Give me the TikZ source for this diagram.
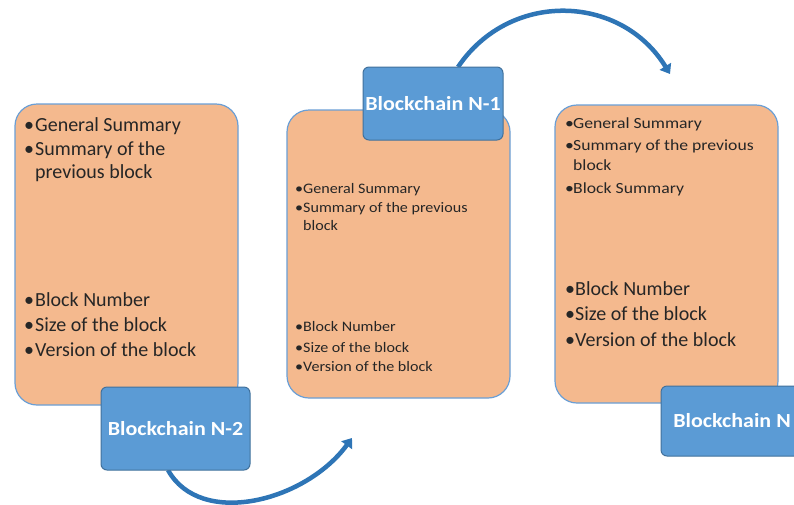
\documentclass[tikz,border=0pt]{standalone}
\usepackage{fontspec}
\setmainfont{Carlito}
\newfontfamily\smallwide[FakeStretch=1.11]{Carlito}
\newfontfamily\smallwider[FakeStretch=1.14]{Carlito}
\newfontfamily\boldwide[FakeStretch=1.1]{Carlito}
\usetikzlibrary{arrows.meta}
\definecolor{orangefill}{HTML}{F4B98E}
\definecolor{orangeline}{HTML}{6A9FD6}
\definecolor{bluefill}{HTML}{5B9BD5}
\definecolor{blueline}{HTML}{41719C}
\definecolor{arrowblue}{HTML}{2E75B6}
\newcommand\bitem[2]{\makebox[#1][l]{\textbullet}#2}
\tikzset{
  obox/.style={draw=orangeline, fill=orangefill, line width=1.2pt, rounded corners=22pt, inner sep=0pt},
  bbox/.style={draw=blueline, fill=bluefill, line width=1pt, rounded corners=6pt, inner sep=0pt,
    text=white, font=\boldwide\fontsize{20}{22}\selectfont\bfseries},
  big/.style={anchor=base west, inner sep=0pt, font=\fontsize{20}{24}\selectfont, text=black!85},
  small/.style={anchor=base west, inner sep=0pt, font=\smallwide\fontsize{14.5}{18}\selectfont, text=black!85},
  smallb/.style={anchor=base west, inner sep=0pt, font=\smallwider\fontsize{15.5}{18}\selectfont, text=black!85},
  flow/.style={draw=arrowblue, line width=4.5pt, -{Triangle[length=9pt,width=13pt]}}
}
\begin{document}
\begin{tikzpicture}[x=1pt,y=-1pt]
\clip (0,0) rectangle (794,504);
\fill[white] (0,0) rectangle (794,504);

% orange boxes
\node[obox, minimum width=223pt, minimum height=301pt] (b1) at (126.5,254.5) {};
\node[obox, minimum width=223pt, minimum height=288pt] (b2) at (398.5,254) {};
\node[obox, minimum width=223pt, minimum height=298pt] (b3) at (666.5,254) {};

% box 1 text
\node[big] (t1a) at (24,131) {\bitem{11pt}{General Summary}};
\node[big] (t1b) at (24,155) {\bitem{11pt}{Summary of the}};
\node[big] (t1c) at (35,178) {previous block};
\node[big] (t1d) at (24,306) {\bitem{11pt}{Block Number}};
\node[big] (t1e) at (24,331) {\bitem{11pt}{Size of the block}};
\node[big] (t1f) at (24,356) {\bitem{11pt}{Version of the block}};

% box 2 text
\node[small] (t2a) at (295,193) {\bitem{8pt}{General Summary}};
\node[small] (t2b) at (295,212) {\bitem{8pt}{Summary of the previous}};
\node[small] (t2c) at (303,230) {block};
\node[small] (t2d) at (295,331) {\bitem{8pt}{Block Number}};
\node[small] (t2e) at (295,352) {\bitem{8pt}{Size of the block}};
\node[small] (t2f) at (295,371) {\bitem{8pt}{Version of the block}};

% box 3 text
\node[smallb] (t3a) at (565,128) {\bitem{8pt}{General Summary}};
\node[smallb] (t3b) at (565,150) {\bitem{8pt}{Summary of the previous}};
\node[smallb] (t3c) at (573,170) {block};
\node[smallb] (t3d) at (565,193) {\bitem{8pt}{Block Summary}};
\node[big] (t3e) at (565,295) {\bitem{10pt}{Block Number}};
\node[big] (t3f) at (565,320) {\bitem{10pt}{Size of the block}};
\node[big] (t3g) at (565,346) {\bitem{10pt}{Version of the block}};

% arrows
\coordinate (a1s) at (168,470);
\coordinate (a1e) at (352,438);
\coordinate (a2s) at (458,67);
\coordinate (a2e) at (670,74);
\draw[flow] (a1s) .. controls (200,528) and (305,502) .. (a1e);
\draw[flow] (a2s) .. controls (510,-10) and (621,-6) .. (a2e);

% blue boxes
\node[bbox, minimum width=149pt, minimum height=83pt] (n2) at (175.5,428.5) {Blockchain N-2};
\node[bbox, minimum width=140pt, minimum height=73pt] (n1) at (433,103.5) {Blockchain N-1};
\node[bbox, minimum width=142pt, minimum height=70pt] (n0) at (732,421) {Blockchain N};
\end{tikzpicture}
\end{document}
